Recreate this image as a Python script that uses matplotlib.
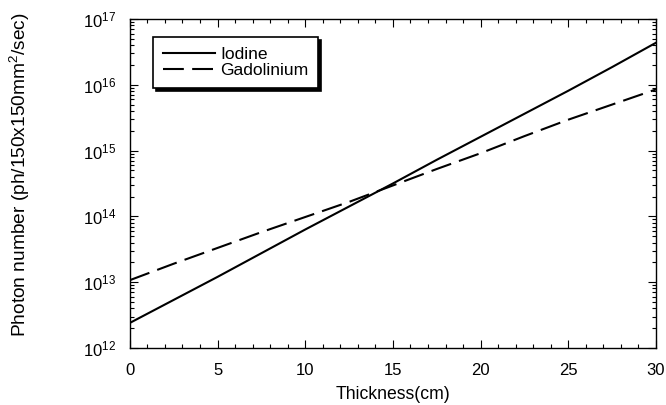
import matplotlib
matplotlib.use("Agg")
import matplotlib.pyplot as plt
import numpy as np
from matplotlib.ticker import MultipleLocator, LogLocator

plt.rcParams['font.family'] = ['Liberation Sans', 'DejaVu Sans']
plt.rcParams['mathtext.default'] = 'regular'

# thickness (cm) and log10 of photon number
thickness = [0, 2.5, 5, 7.5, 10, 12.5, 15, 17.5, 20, 22.5, 25, 27.5, 30]
iodine_log = [12.38, 12.73, 13.08, 13.44, 13.80, 14.15, 14.50, 14.86, 15.21, 15.56, 15.91, 16.27, 16.64]
gado_log = [13.03, 13.28, 13.52, 13.76, 13.99, 14.22, 14.47, 14.72, 14.96, 15.22, 15.47, 15.70, 15.93]

fig = plt.figure(figsize=(6.66, 4.05), dpi=100)
ax = fig.add_axes([0.195, 0.141, 0.79, 0.812])

ax.plot(thickness, 10**np.array(iodine_log), color="k", lw=1.5, label="Iodine")
ax.plot(thickness, 10**np.array(gado_log), color="k", lw=1.5, ls=(0, (10, 4)), label="Gadolinium")

ax.set_yscale("log")
ax.set_xlim(0, 30)
ax.set_ylim(1e12, 1e17)
ax.xaxis.set_major_locator(MultipleLocator(5))
ax.xaxis.set_minor_locator(MultipleLocator(1))
ax.yaxis.set_major_locator(LogLocator(base=10, numticks=10))
ax.yaxis.set_minor_locator(LogLocator(base=10, subs=np.arange(2, 10), numticks=20))
ax.tick_params(which="both", direction="in", top=True, right=True, labelsize=12, width=0.8)
ax.tick_params(which="major", length=6)
ax.tick_params(axis="x", which="major", pad=11)
ax.tick_params(axis="y", which="major", pad=10)
ax.tick_params(which="minor", length=3)
for s in ax.spines.values():
    s.set_linewidth(1.0)

ax.set_xlabel("Thickness(cm)", fontsize=12.7)
ax.xaxis.set_label_coords(0.5, -0.143)
ax.xaxis.label.set_va("center")
ax.set_ylabel("Photon number (ph/150x150mm$^2$/sec)", fontsize=13.8)
ax.yaxis.set_label_coords(-0.209, 0.526)
ax.yaxis.label.set_va("center")

leg = ax.legend(loc="upper left", bbox_to_anchor=(0.044, 0.945), borderaxespad=0,
                fontsize=12.6, handlelength=3.0, handletextpad=0.3, fancybox=False,
                edgecolor="k", framealpha=1, labelspacing=0.05, borderpad=0.55,
                shadow={"color": "k", "alpha": 1})
leg.get_frame().set_linewidth(1.2)

fig.savefig("out.png", dpi=100)
